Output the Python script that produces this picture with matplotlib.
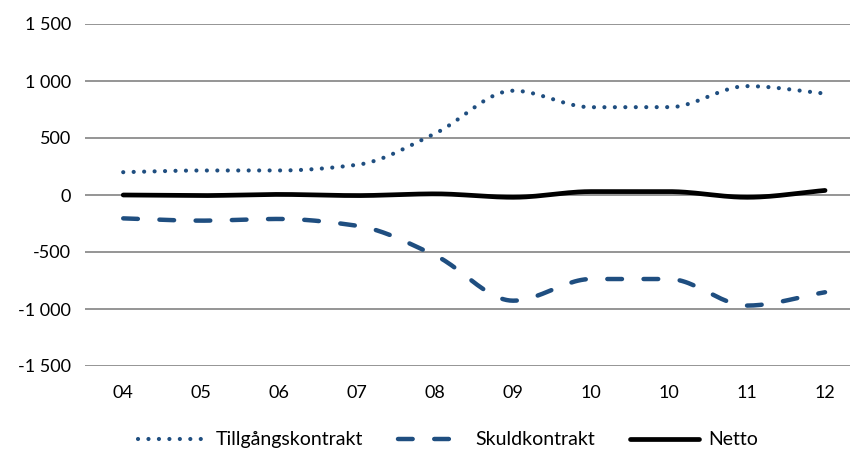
import numpy as np
import matplotlib
matplotlib.use("Agg")
import matplotlib.pyplot as plt

# data
years = ["04", "05", "06", "07", "08", "09", "10", "10", "11", "12"]
tillgang = [200, 215, 215, 265, 540, 915, 770, 770, 955, 890]
skuld = [-205, -225, -210, -270, -530, -927, -737, -737, -970, -853]
netto = [0, -5, 5, -5, 10, -20, 30, 30, -20, 40]

blue = "#1f4e80"
grid_col = "#8c8c8c"


def smooth(y, n=24):
    # monotone cubic (Fritsch-Carlson) curve through the points
    y = np.asarray(y, dtype=float)
    d = np.diff(y)
    m = np.zeros_like(y)
    m[0], m[-1] = d[0], d[-1]
    for i in range(1, len(y) - 1):
        if d[i - 1] * d[i] > 0:
            m[i] = 2 / (1 / d[i - 1] + 1 / d[i])
    xs, ys = [], []
    t = np.linspace(0, 1, n, endpoint=False)
    h00 = 2 * t ** 3 - 3 * t ** 2 + 1
    h10 = t ** 3 - 2 * t ** 2 + t
    h01 = -2 * t ** 3 + 3 * t ** 2
    h11 = t ** 3 - t ** 2
    for i in range(len(y) - 1):
        xs.append(i + t)
        ys.append(h00 * y[i] + h10 * m[i] + h01 * y[i + 1] + h11 * m[i + 1])
    xs.append([len(y) - 1])
    ys.append([y[-1]])
    return np.concatenate(xs), np.concatenate(ys)


plt.rcParams["font.family"] = ["Lato", "DejaVu Sans"]

fig = plt.figure(figsize=(8.5, 4.53), dpi=100)
ax = fig.add_axes([85 / 850, 87 / 453, 765 / 850, 342 / 453])

xs, ys = smooth(tillgang)
ax.plot(xs, ys, color=blue, lw=3.0, linestyle=(0, (0.01, 2.5)),
        dash_capstyle="round", label="Tillgångskontrakt")
xs, ys = smooth(skuld)
ax.plot(xs, ys, color=blue, lw=3.2, linestyle=(0, (3.3, 4.85)),
        dash_capstyle="round", label="Skuldkontrakt")
xs, ys = smooth(netto)
ax.plot(xs, ys, color="black", lw=3.4, solid_capstyle="round", label="Netto")

ax.set_ylim(-1500, 1500)
ax.set_xlim(-0.49, 9.32)
ax.set_yticks(np.arange(-1500, 1501, 500))
ax.set_yticklabels([f"{v:,}".replace(",", " ") for v in range(-1500, 1501, 500)])
ax.set_xticks(range(len(years)))
ax.set_xticklabels(years)
ax.grid(axis="y", color=grid_col, lw=1.3)
ax.set_axisbelow(True)
for s in ax.spines.values():
    s.set_visible(False)
ax.tick_params(length=0, labelsize=13, colors="black")
ax.tick_params(axis="y", pad=10)
ax.tick_params(axis="x", pad=14)

fig.legend(loc="center", bbox_to_anchor=(0.527, 0.029), ncol=3, frameon=False,
           fontsize=14, handlelength=3.5, columnspacing=1.8, handletextpad=0.5)

fig.savefig("out.png", dpi=100)
